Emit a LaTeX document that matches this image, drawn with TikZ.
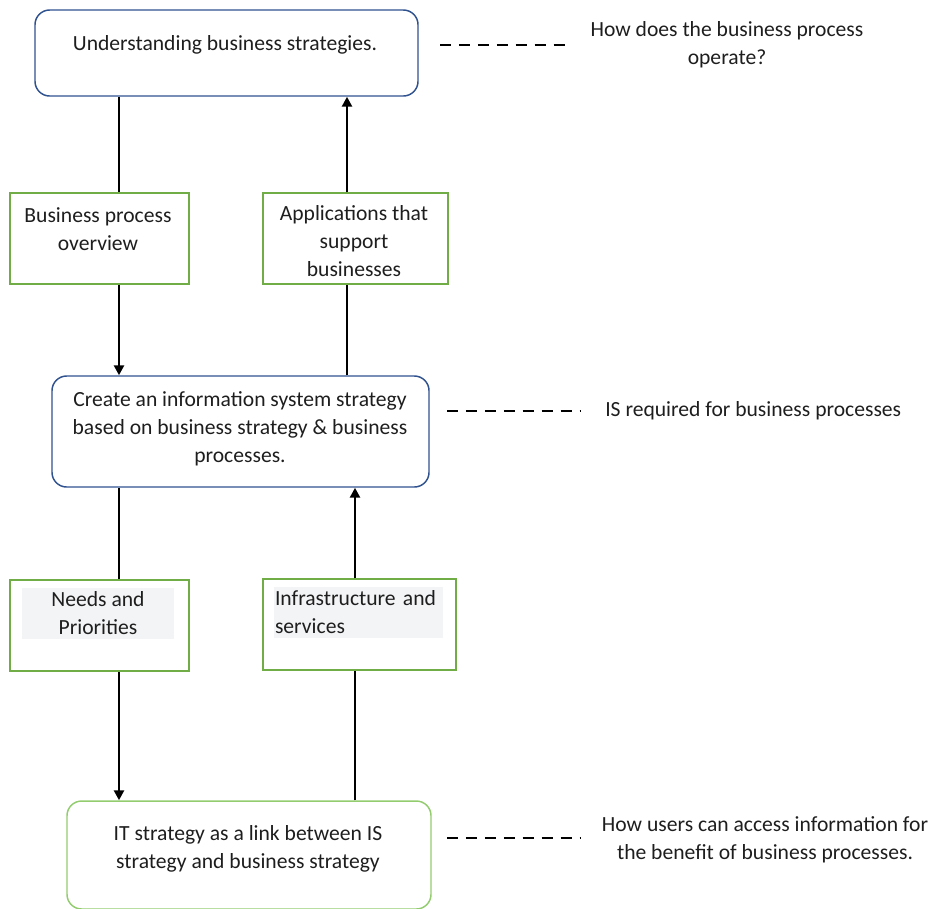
\documentclass[tikz,border=0pt]{standalone}
\usepackage{fontspec}
\setmainfont{Carlito}
\usetikzlibrary{arrows.meta}
\definecolor{boxblue}{HTML}{2F528F}
\definecolor{boxgreen}{HTML}{70AD47}
\definecolor{lightgreen}{HTML}{92CC6E}
\definecolor{hl}{HTML}{F3F4F6}
\definecolor{txt}{HTML}{1E1E1E}
\tikzset{
  px/.style={x=0.75pt,y=-0.75pt},
  roundbox/.style={draw=boxblue,line width=1.1pt,rounded corners=11pt,inner sep=0pt},
  greenbox/.style={draw=boxgreen,line width=1.1pt,inner sep=0pt},
  txtnode/.style={text=txt,align=center,inner sep=0pt,font=\fontsize{16.2}{21}\selectfont},
  conn/.style={line width=1.9pt,black},
  arr/.style={conn,-{Triangle[length=7.5pt,width=7.5pt]}},
  dashline/.style={line width=2pt,black,dash pattern=on 8.5pt off 5.7pt},
}
\begin{document}
\begin{tikzpicture}[px]
\useasboundingbox (0,0) rectangle (930,908);
\clip (0,0) rectangle (930,908);
% boxes
\node[roundbox,minimum width=383*0.75pt,minimum height=86*0.75pt] (top) at (226.5,53) {};
\node[txtnode] (toptxt) at (225,45) {Understanding business strategies.};
\node[greenbox,minimum width=179*0.75pt,minimum height=91*0.75pt] (bpo) at (99.5,238.5) {};
\node[txtnode] (bpotxt) at (98,229) {Business process\\overview};
\node[greenbox,minimum width=185*0.75pt,minimum height=91*0.75pt] (app) at (355.5,238.5) {};
\node[txtnode] (apptxt) at (354,241) {Applications that\\support\\businesses};
\node[roundbox,minimum width=377*0.75pt,minimum height=111*0.75pt] (mid) at (240.5,431.5) {};
\node[txtnode] (midtxt) at (240,429) {Create an information system strategy\\based on business strategy \& business\\processes.};
\node[greenbox,minimum width=179*0.75pt,minimum height=91*0.75pt] (needs) at (99.5,625.5) {};
\node[txtnode,fill=hl,minimum width=152*0.75pt,minimum height=51*0.75pt] (needstxt) at (98,613.5) {Needs and\\Priorities};
\node[greenbox,minimum width=193*0.75pt,minimum height=91*0.75pt] (infra) at (359.5,624.5) {};
\node[txtnode,fill=hl,align=left,text width=167*0.75pt,minimum height=51*0.75pt,inner xsep=0.8pt] (infratxt) at (358.5,612.5) {Infrastructure and\\services};
\node[roundbox,draw=lightgreen,minimum width=364*0.75pt,minimum height=108*0.75pt] (bot) at (249,855) {};
\node[txtnode] (bottxt) at (248,848.5) {IT strategy as a link between IS\\strategy and business strategy};
% annotations
\node[txtnode] (q1) at (727,45) {How does the business process\\operate?};
\node[txtnode,anchor=west] (q2) at (605,411) {IS required for business processes};
\node[txtnode] (q3) at (765,839.5) {How users can access information for\\the benefit of business processes.};
\coordinate (d1a) at (440,45); \coordinate (d1b) at (570,45);
\coordinate (d2a) at (447,411); \coordinate (d2b) at (580,411);
\coordinate (d3a) at (447,838); \coordinate (d3b) at (580,838);
\draw[dashline] (d1a) -- (d1b);
\draw[dashline] (d2a) -- (d2b);
\draw[dashline] (d3a) -- (d3b);
% connectors
\coordinate (xL) at (119,0);
\coordinate (xR1) at (347,0);
\coordinate (xR2) at (355,0);
\draw[conn] (xL |- top.south) -- (xL |- bpo.north);
\draw[arr] (xL |- bpo.south) -- (xL |- mid.north);
\draw[conn] (xR1 |- mid.north) -- (xR1 |- app.south);
\draw[arr] (xR1 |- app.north) -- (xR1 |- top.south);
\draw[conn] (xL |- mid.south) -- (xL |- needs.north);
\draw[arr] (xL |- needs.south) -- (xL |- bot.north);
\draw[conn] (xR2 |- bot.north) -- (xR2 |- infra.south);
\draw[arr] (xR2 |- infra.north) -- (xR2 |- mid.south);
\end{tikzpicture}
\end{document}
